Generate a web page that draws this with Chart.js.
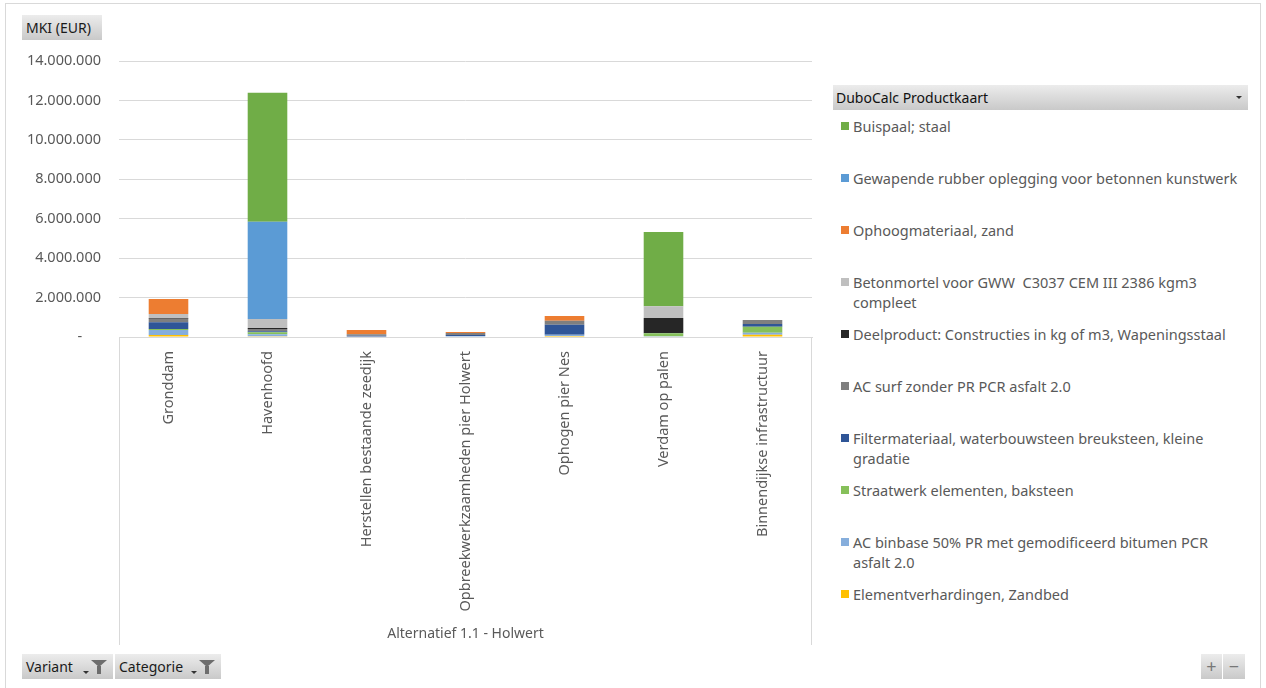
<!DOCTYPE html>
<html>
<head>
<meta charset="utf-8">
<script src="https://cdn.jsdelivr.net/npm/chart.js@4.4.1/dist/chart.umd.min.js"></script>
<style>
  html, body { margin: 0; padding: 0; background: #fff; width: 1266px; height: 688px; overflow: hidden; font-family: "Noto Sans", sans-serif; }
  #frame { position: absolute; left: 5px; top: 3px; width: 1256px; height: 700px; border: 1px solid #D9D9D9; box-sizing: border-box; }
  #wrap { position: absolute; left: 0; top: 0; width: 830px; height: 688px; }
  .btn { position: absolute; box-sizing: border-box; background: linear-gradient(#ECECEC, #C9C9C9); color: #1a1a1a; font-size: 14px; line-height: 25px; padding-left: 4px; white-space: nowrap; }
  .funnel { position: absolute; right: 6px; top: 6px; width: 0; height: 0; border-left: 8px solid transparent; border-right: 8px solid transparent; border-top: 7px solid #6d6d6d; }
  .funnel:after { content: ""; position: absolute; left: -2px; top: -1px; width: 4px; height: 8px; background: #6d6d6d; }
  .dd { position: absolute; width: 0; height: 0; border-left: 3px solid transparent; border-right: 3px solid transparent; border-top: 3px solid #333; }
  #legendHead { position: absolute; left: 833px; top: 85px; width: 415px; height: 25px; box-sizing: border-box; background: linear-gradient(#ECECEC, #C9C9C9); font-size: 14px; line-height: 25px; padding-left: 3px; color: #111; }
  .item { position: absolute; left: 853px; width: 395px; font-size: 14.5px; line-height: 20px; color: #595959; white-space: pre-wrap; }
  .sw { position: absolute; left: -12px; top: 6px; width: 8px; height: 8px; }
</style>
</head>
<body>
<div id="frame"></div>
<div id="wrap"><canvas id="c"></canvas></div>
<div class="btn" style="left:22px;top:15px;width:80px;height:25px;">MKI (EUR)</div>
<div id="legendHead">DuboCalc Productkaart<div class="dd" style="left:403px;top:11px;"></div></div>
<div id="legend"></div>
<div class="btn" style="left:22px;top:654px;width:91px;height:25px;">Variant<div class="dd" style="left:61px;top:17px;"></div><div class="funnel" style="right:6px;"></div></div>
<div class="btn" style="left:115px;top:654px;width:106px;height:25px;">Categorie<div class="dd" style="left:76px;top:17px;"></div><div class="funnel" style="right:6px;"></div></div>
<div class="btn" style="left:1201px;top:654px;width:21px;height:25px;padding:0;text-align:center;color:#777;font-size:18px;">+</div>
<div class="btn" style="left:1223px;top:654px;width:22px;height:25px;padding:0;text-align:center;color:#777;font-size:18px;">−</div>
<script>
// Categories (x axis)
const categories = ['Gronddam', 'Havenhoofd', 'Herstellen bestaande zeedijk', 'Opbreekwerkzaamheden pier Holwert', 'Ophogen pier Nes', 'Verdam op palen', 'Binnendijkse infrastructuur'];
const groupLabel = 'Alternatief 1.1 - Holwert';
const yAxisTitle = 'MKI (EUR)';
const yTicks = [0, 2000000, 4000000, 6000000, 8000000, 10000000, 12000000, 14000000];

// Series (stack order bottom -> top), values in EUR
const seriesNames = [
  'Elementverhardingen, Zandbed',
  'AC binbase 50% PR met gemodificeerd bitumen PCR asfalt 2.0',
  'Straatwerk elementen, baksteen',
  'Filtermateriaal, waterbouwsteen breuksteen, kleine gradatie',
  'AC surf zonder PR PCR asfalt 2.0',
  'Deelproduct: Constructies in kg of m3, Wapeningsstaal',
  'Betonmortel voor GWW  C3037 CEM III 2386 kgm3 compleet',
  'Ophoogmateriaal, zand',
  'Gewapende rubber oplegging voor betonnen kunstwerk',
  'Buispaal; staal'
];
const seriesColors = ['#FFC000', '#86AEDC', '#86C05A', '#2F5597', '#7F7F7F', '#262626', '#BFBFBF', '#ED7D31', '#5B9BD5', '#70AD47'];

const elementverhardingen = [100000, 40000, 0, 30000, 50000, 20000, 120000];
const acBinbase          = [250000, 100000, 30000, 20000, 70000, 20000, 100000];
const straatwerk         = [50000, 100000, 0, 0, 0, 150000, 300000];
const filtermateriaal    = [350000, 50000, 30000, 50000, 500000, 10000, 140000];
const acSurf             = [170000, 120000, 80000, 100000, 200000, 0, 200000];
const deelproduct        = [50000, 50000, 0, 0, 0, 760000, 0];
const betonmortel        = [200000, 450000, 0, 0, 0, 600000, 0];
const ophoogmateriaal    = [760000, 0, 220000, 50000, 250000, 0, 0];
const gewapendeRubber    = [0, 4930000, 0, 0, 0, 0, 0];
const buispaal           = [0, 6550000, 0, 0, 0, 3760000, 0];

const seriesValues = [elementverhardingen, acBinbase, straatwerk, filtermateriaal, acSurf, deelproduct, betonmortel, ophoogmateriaal, gewapendeRubber, buispaal];

function fmt(v) {
  if (v === 0) return '-     ';
  return String(v).replace(/\B(?=(\d{3})+(?!\d))/g, '.');
}

const FONT = '"Noto Sans", sans-serif';
const GRID = '#D9D9D9';

const edgeLines = {
  id: 'edgeLines',
  afterDraw(chart) {
    const x = chart.scales.x, ca = chart.chartArea, ctx = chart.ctx;
    ctx.save();
    ctx.strokeStyle = GRID;
    ctx.lineWidth = 1;
    ctx.beginPath();
    ctx.moveTo(Math.round(x.left) + 0.5, ca.bottom);
    ctx.lineTo(Math.round(x.left) + 0.5, 645);
    ctx.moveTo(Math.round(x.right) - 0.5, ca.bottom);
    ctx.lineTo(Math.round(x.right) - 0.5, 645);
    ctx.stroke();
    ctx.restore();
  }
};

const chart = new Chart(document.getElementById('c'), {
  type: 'bar',
  data: {
    labels: categories,
    datasets: seriesNames.map((n, i) => ({
      label: n,
      data: seriesValues[i],
      backgroundColor: seriesColors[i],
      borderWidth: 0,
      barPercentage: 0.4,
      categoryPercentage: 1.0
    }))
  },
  options: {
    responsive: true,
    maintainAspectRatio: false,
    animation: false,
    layout: { padding: { top: 61, left: 0, right: 18, bottom: 48 } },
    plugins: { legend: { display: false }, tooltip: { enabled: false } },
    scales: {
      x: {
        stacked: true,
        grid: { display: false },
        border: { display: true, color: GRID },
        ticks: { maxRotation: 90, minRotation: 90, autoSkip: false, color: '#595959', font: { family: FONT, size: 14.5 }, padding: 6 },
        title: { display: true, text: groupLabel, color: '#595959', font: { family: FONT, size: 14 }, padding: { top: 0, bottom: -2 } },
        afterFit(s) { s.height = 303; }
      },
      y: {
        stacked: true,
        min: 0,
        max: 14000000,
        afterBuildTicks(s) { s.ticks = yTicks.map(v => ({ value: v })); },
        grid: { color: GRID, drawTicks: false },
        border: { display: false },
        ticks: { color: '#595959', font: { family: FONT, size: 14.5 }, padding: 18, callback: v => fmt(v) },
        afterFit(s) { s.width = 119; }
      }
    }
  },
  plugins: [edgeLines]
});

// HTML legend (Excel-like, top of stack first)
const legend = document.getElementById('legend');
chart.data.datasets.slice().reverse().forEach((ds, i) => {
  const d = document.createElement('div');
  d.className = 'item';
  d.style.top = (116 + 52 * i) + 'px';
  const s = document.createElement('div');
  s.className = 'sw';
  s.style.background = ds.backgroundColor;
  d.appendChild(s);
  d.appendChild(document.createTextNode(ds.label));
  legend.appendChild(d);
});
</script>
</body>
</html>
